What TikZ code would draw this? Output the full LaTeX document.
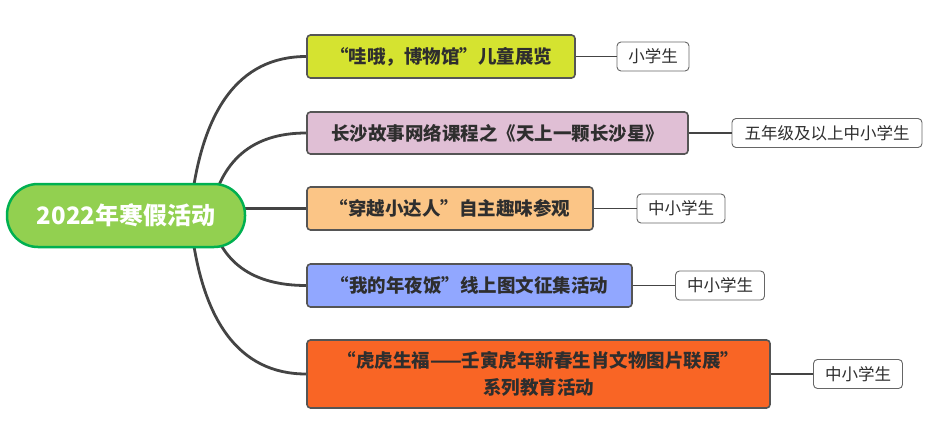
\documentclass[tikz,border=0pt]{standalone}
\usepackage{fontspec}
\newfontfamily\cjk{Noto Sans CJK SC}
\usetikzlibrary{backgrounds}
\definecolor{linegray}{HTML}{444444}
\definecolor{boxborder}{HTML}{555555}
\definecolor{txt}{HTML}{2E2E2E}
\definecolor{rootfill}{HTML}{92D050}
\definecolor{rootborder}{HTML}{00B050}
\definecolor{cA}{HTML}{D5E330}
\definecolor{cB}{HTML}{E0BFD5}
\definecolor{cC}{HTML}{FBC586}
\definecolor{cD}{HTML}{91A7FF}
\definecolor{cE}{HTML}{F96525}
\tikzset{
  rootbox/.style={draw=rootborder, line width=2.5pt, fill=rootfill, rounded corners=31pt,
    minimum width=238pt, minimum height=63pt, inner sep=0pt, text=white,
    font=\cjk\bfseries\fontsize{24}{28}\selectfont},
  branchbox/.style={draw=boxborder, line width=1.6pt, rounded corners=3.5pt,
    inner sep=0pt, text=txt, align=center,
    font=\cjk\bfseries\fontsize{18.5}{27}\selectfont},
  leafbox/.style={draw=boxborder!90, line width=0.9pt, rounded corners=4pt, fill=white,
    minimum height=29pt, inner sep=0pt, text=txt,
    font=\cjk\fontsize{16.5}{20}\selectfont},
  mainlink/.style={draw=linegray, line width=2.8pt},
  leaflink/.style={draw=linegray, line width=1.1pt},
}
\begin{document}
\begin{tikzpicture}[x=1pt,y=-1pt]
\useasboundingbox (0,0) rectangle (931,442);
\node[rootbox] (root) at (126,215.5) {2022年寒假活动};
\node[branchbox, fill=cA, minimum width=268pt, minimum height=43pt] (b1) at (441,56.5) {“哇哦，博物馆”儿童展览};
\node[branchbox, fill=cB, minimum width=381pt, minimum height=42pt] (b2) at (497.5,133) {长沙故事网络课程之《天上一颗长沙星》};
\node[branchbox, fill=cC, minimum width=286pt, minimum height=43pt] (b3) at (450,208.5) {“穿越小达人”自主趣味参观};
\node[branchbox, fill=cD, minimum width=325pt, minimum height=43pt] (b4) at (469.5,285.5) {“我的年夜饭”线上图文征集活动};
\node[branchbox, fill=cE, minimum width=463pt, minimum height=68pt] (b5) at (538.5,374) {“虎虎生福——壬寅虎年新春生肖文物图片联展”\\系列教育活动};
\node[leafbox, minimum width=72pt] (l1) at (653,56.5) {小学生};
\node[leafbox, minimum width=190pt] (l2) at (827,133) {五年级及以上中小学生};
\node[leafbox, minimum width=88pt] (l3) at (681,208.5) {中小学生};
\node[leafbox, minimum width=89pt] (l4) at (720,285.5) {中小学生};
\node[leafbox, minimum width=89pt] (l5) at (858,374) {中小学生};
\begin{scope}[on background layer]
\draw[mainlink] ([xshift=64pt]root.center) .. controls (200,109.7) and (239,56.5) .. (b1.west);
\draw[mainlink] ([xshift=84pt]root.center) .. controls (220,160.3) and (252.3,133) .. (b2.west);
\draw[mainlink] (b3.west -| root.center) -- (b3.west);
\draw[mainlink] ([xshift=84pt]root.center) .. controls (220,262.3) and (252.3,285.5) .. (b4.west);
\draw[mainlink] ([xshift=64pt]root.center) .. controls (200,321) and (239,374) .. (b5.west);
\end{scope}
\draw[leaflink] (b1.east) -- (l1.west);
\draw[leaflink] (b2.east) -- (l2.west);
\draw[leaflink] (b3.east) -- (l3.west);
\draw[leaflink] (b4.east) -- (l4.west);
\draw[leaflink] (b5.east) -- (l5.west);
\end{tikzpicture}
\end{document}
